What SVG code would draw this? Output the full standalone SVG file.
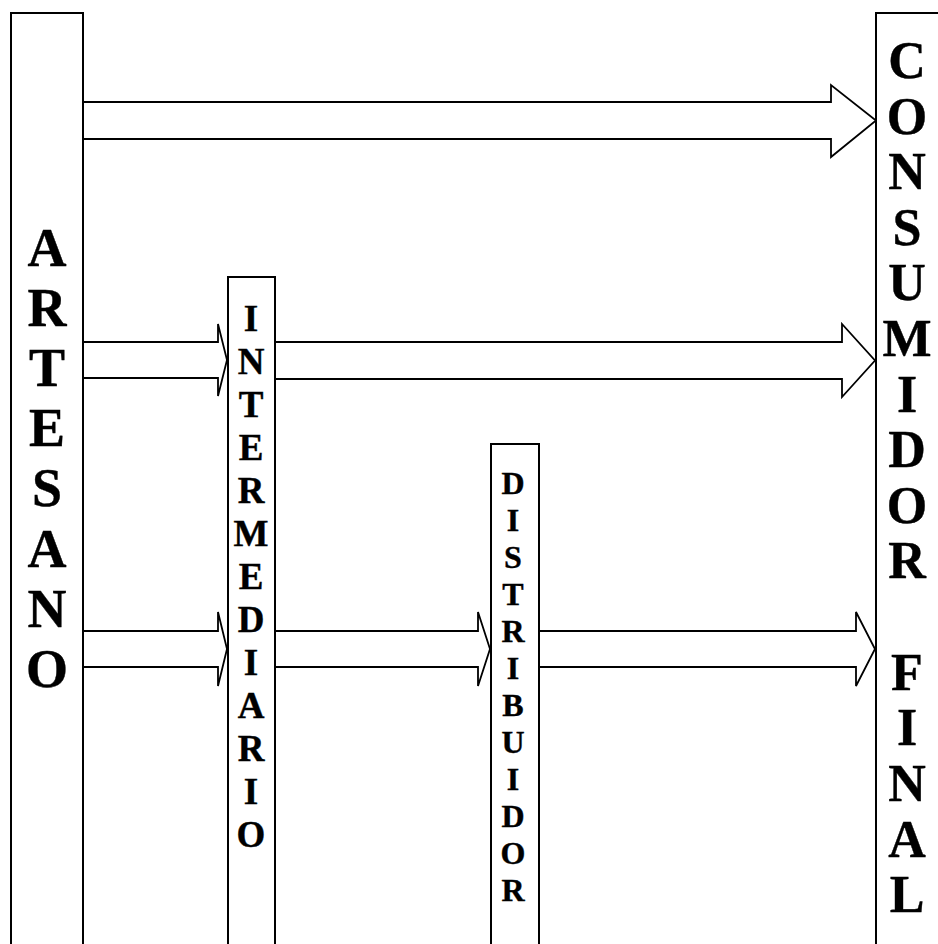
<svg xmlns="http://www.w3.org/2000/svg" width="938" height="944" viewBox="0 0 938 944">
  <style>
    .box { fill: #fff; stroke: #000; stroke-width: 2; }
    .arrow { fill: #fff; stroke: #000; stroke-width: 1.8; stroke-linejoin: miter; }
    .lbl { fill: #000; stroke: #000; stroke-width: 0.4; text-anchor: middle; }
  </style>
  <rect width="938" height="944" fill="#fff"/>

  <!-- connectors: block arrows -->
  <g id="connectors">
    <path class="arrow" d="M83,102 H831 V85 L876,120.5 L831,157 V139 H83"/>
    <path class="arrow" d="M83,342 H218 V324 L227,360 L218,396 V378 H83"/>
    <path class="arrow" d="M275,342 H842 V324 L875,360.5 L842,397 V379 H275"/>
    <path class="arrow" d="M83,631 H218 V612 L227,649 L218,686 V667 H83"/>
    <path class="arrow" d="M275,631 H478 V612 L490,649 L478,686 V667 H275"/>
    <path class="arrow" d="M539,631 H856 V612 L875,649 L856,686 V667 H539"/>
  </g>

  <g id="artesano">
    <rect class="box" x="11" y="13" width="72" height="945"/>
    <g font-family="Liberation Serif" font-weight="bold" font-size="54">
      <text class="lbl" x="47" y="266">A</text>
      <text class="lbl" x="47" y="326">R</text>
      <text class="lbl" x="47" y="386">T</text>
      <text class="lbl" x="47" y="446">E</text>
      <text class="lbl" x="47" y="506">S</text>
      <text class="lbl" x="47" y="567">A</text>
      <text class="lbl" x="47" y="627">N</text>
      <text class="lbl" x="47" y="687">O</text>
    </g>
  </g>

  <g id="intermediario">
    <rect class="box" x="228" y="277" width="47" height="680"/>
    <g font-family="Liberation Serif" font-weight="bold" font-size="37">
      <text class="lbl" x="251" y="331">I</text>
      <text class="lbl" x="251" y="374">N</text>
      <text class="lbl" x="251" y="417">T</text>
      <text class="lbl" x="251" y="460">E</text>
      <text class="lbl" x="251" y="503">R</text>
      <text class="lbl" x="251" y="546">M</text>
      <text class="lbl" x="251" y="589">E</text>
      <text class="lbl" x="251" y="632">D</text>
      <text class="lbl" x="251" y="675">I</text>
      <text class="lbl" x="251" y="718">A</text>
      <text class="lbl" x="251" y="761">R</text>
      <text class="lbl" x="251" y="804">I</text>
      <text class="lbl" x="251" y="847">O</text>
    </g>
  </g>

  <g id="distribuidor">
    <rect class="box" x="491" y="444" width="48" height="520"/>
    <g font-family="Liberation Serif" font-weight="bold" font-size="32">
      <text class="lbl" x="513" y="494">D</text>
      <text class="lbl" x="513" y="531">I</text>
      <text class="lbl" x="513" y="568">S</text>
      <text class="lbl" x="513" y="605">T</text>
      <text class="lbl" x="513" y="642">R</text>
      <text class="lbl" x="513" y="679">I</text>
      <text class="lbl" x="513" y="716">B</text>
      <text class="lbl" x="513" y="753">U</text>
      <text class="lbl" x="513" y="790">I</text>
      <text class="lbl" x="513" y="827">D</text>
      <text class="lbl" x="513" y="864">O</text>
      <text class="lbl" x="513" y="901">R</text>
    </g>
  </g>

  <g id="consumidor-final">
    <rect class="box" x="876" y="13" width="80" height="945"/>
    <g font-family="Liberation Serif" font-weight="bold" font-size="52">
      <text class="lbl" x="907" y="78">C</text>
      <text class="lbl" x="907" y="134">O</text>
      <text class="lbl" x="907" y="189">N</text>
      <text class="lbl" x="907" y="245">S</text>
      <text class="lbl" x="907" y="300">U</text>
      <text class="lbl" x="907" y="356">M</text>
      <text class="lbl" x="907" y="412">I</text>
      <text class="lbl" x="907" y="467">D</text>
      <text class="lbl" x="907" y="523">O</text>
      <text class="lbl" x="907" y="578">R</text>
      <text class="lbl" x="907" y="690">F</text>
      <text class="lbl" x="907" y="745">I</text>
      <text class="lbl" x="907" y="801">N</text>
      <text class="lbl" x="907" y="857">A</text>
      <text class="lbl" x="907" y="912">L</text>
    </g>
  </g>
</svg>
